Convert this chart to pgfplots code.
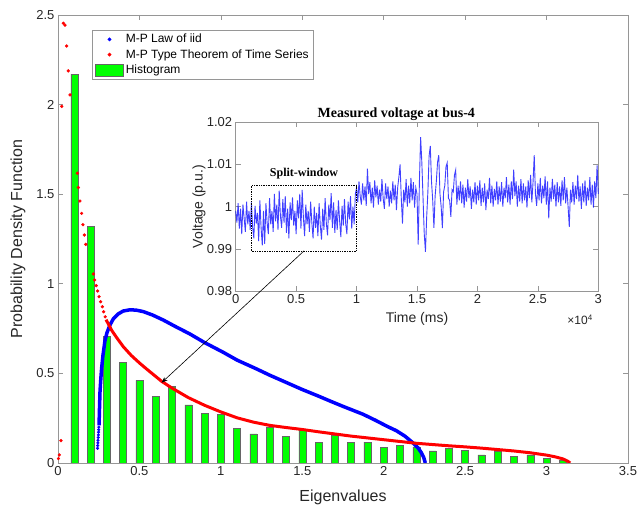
\documentclass[border=0pt]{standalone}
\usepackage{fontspec}
\setmainfont{Liberation Sans}
\newfontfamily\tnr{Liberation Serif}
\usepackage{pgfplots}
\pgfplotsset{compat=1.18}
\usepackage{pgfplotstable}
\usetikzlibrary{arrows.meta}
\definecolor{axgray}{RGB}{150,150,150}
\definecolor{txtgray}{RGB}{38,38,38}
\definecolor{histgreen}{RGB}{0,255,0}

% histogram of eigenvalues
\pgfplotstableread{
x h
0.1 2.17
0.2 1.32
0.3 0.705
0.4 0.562
0.5 0.461
0.6 0.372
0.7 0.426
0.8 0.325
0.9 0.275
1.0 0.272
1.1 0.194
1.2 0.162
1.3 0.201
1.4 0.149
1.5 0.184
1.6 0.117
1.7 0.155
1.8 0.115
1.9 0.117
2.0 0.088
2.1 0.097
2.2 0.090
2.3 0.067
2.4 0.080
2.5 0.070
2.6 0.046
2.7 0.064
2.8 0.035
2.9 0.046
3.0 0.027
3.1 0.015
}\hist

% measured voltage at bus-4
\pgfplotstableread[row sep=\\]{
t v\\
0 0.9990\\ 100 0.9962\\ 200 1.0008\\ 300 0.9948\\ 400 0.9995\\ 500 0.9935\\ 600 1.0005\\ 700 0.9972\\ 800 0.9940\\ 900 1.0012\\
1000 0.9958\\ 1100 0.9990\\ 1200 0.9945\\ 1300 1.0010\\ 1400 0.9952\\ 1500 0.9925\\ 1600 1.0002\\ 1700 0.9960\\ 1800 0.9985\\ 1900 0.9918\\
2000 1.0015\\ 2100 0.9950\\ 2200 0.9908\\ 2300 0.9990\\ 2400 0.9912\\ 2500 1.0008\\ 2600 0.9962\\ 2700 0.9935\\ 2800 1.0020\\ 2900 0.9958\\
3000 0.9990\\ 3100 0.9940\\ 3200 1.0030\\ 3300 0.9965\\ 3400 1.0005\\ 3500 0.9945\\ 3600 1.0038\\ 3700 0.9978\\ 3800 0.9950\\ 3900 1.0018\\
4000 0.9962\\ 4100 1.0025\\ 4200 0.9938\\ 4300 0.9995\\ 4400 0.9925\\ 4500 1.0010\\ 4600 0.9968\\ 4700 1.0022\\ 4800 0.9955\\ 4900 0.9990\\
5000 0.9935\\ 5100 1.0015\\ 5200 0.9972\\ 5300 1.0030\\ 5400 0.9948\\ 5500 1.0040\\ 5600 0.9975\\ 5700 0.9930\\ 5800 1.0005\\ 5900 0.9958\\
6000 0.9990\\ 6100 0.9940\\ 6200 1.0012\\ 6300 0.9962\\ 6400 0.9925\\ 6500 1.0000\\ 6600 0.9950\\ 6700 0.9985\\ 6800 0.9930\\ 6900 1.0008\\
7000 0.9955\\ 7100 0.9922\\ 7200 0.9995\\ 7300 0.9945\\ 7400 1.0020\\ 7500 0.9960\\ 7600 0.9932\\ 7700 1.0005\\ 7800 0.9968\\ 7900 1.0032\\
8000 0.9950\\ 8100 1.0010\\ 8200 0.9938\\ 8300 0.9992\\ 8400 0.9945\\ 8500 1.0015\\ 8600 0.9965\\ 8700 0.9928\\ 8800 1.0002\\ 8900 0.9955\\
9000 1.0018\\ 9100 0.9960\\ 9200 0.9935\\ 9300 1.0012\\ 9400 0.9970\\ 9500 1.0025\\ 9600 0.9948\\ 9700 1.0000\\ 9800 0.9958\\ 9900 1.0030\\
10000 1.0045\\ 10100 1.0010\\ 10200 1.0060\\ 10300 1.0025\\ 10400 1.0005\\ 10500 1.0055\\ 10600 1.0015\\ 10700 1.0048\\ 10800 1.0002\\ 10900 1.0090\\
11000 1.0030\\ 11100 1.0058\\ 11200 1.0008\\ 11300 1.0045\\ 11400 0.9998\\ 11500 1.0062\\ 11600 1.0022\\ 11700 1.0050\\ 11800 1.0005\\ 11900 1.0040\\
12000 1.0012\\ 12100 1.0065\\ 12200 1.0020\\ 12300 0.9995\\ 12400 1.0055\\ 12500 1.0018\\ 12600 1.0048\\ 12700 1.0000\\ 12800 1.0038\\ 12900 1.0008\\
13000 1.0060\\ 13100 1.0015\\ 13200 1.0052\\ 13300 0.9992\\ 13400 1.0045\\ 13500 1.0070\\ 13600 1.0100\\ 13700 1.0020\\ 13800 0.9960\\ 13900 1.0040\\
14000 1.0010\\ 14100 1.0065\\ 14200 1.0000\\ 14300 1.0050\\ 14400 1.0008\\ 14500 1.0068\\ 14600 1.0015\\ 14700 1.0058\\ 14800 0.9998\\ 14900 1.0045\\
15000 1.0030\\ 15100 0.9910\\ 15200 1.0060\\ 15300 1.0165\\ 15400 1.0105\\ 15500 1.0020\\ 15600 0.9935\\ 15700 0.9893\\ 15800 0.9975\\ 15900 1.0035\\
16000 1.0120\\ 16100 1.0144\\ 16200 1.0060\\ 16300 1.0015\\ 16400 0.9950\\ 16500 1.0025\\ 16600 1.0060\\ 16700 1.0105\\ 16800 1.0122\\ 16900 1.0030\\
17000 1.0000\\ 17100 0.9949\\ 17200 1.0035\\ 17300 1.0050\\ 17400 1.0095\\ 17500 1.0104\\ 17600 1.0020\\ 17700 1.0015\\ 17800 0.9976\\ 17900 1.0040\\
18000 1.0035\\ 18100 1.0075\\ 18200 1.0087\\ 18300 1.0005\\ 18400 1.0050\\ 18500 1.0015\\ 18600 1.0060\\ 18700 1.0008\\ 18800 1.0052\\ 18900 0.9998\\
19000 1.0045\\ 19100 1.0012\\ 19200 1.0065\\ 19300 1.0020\\ 19400 1.0048\\ 19500 0.9995\\ 19600 1.0040\\ 19700 1.0010\\ 19800 1.0058\\ 19900 1.0005\\
20000 1.0050\\ 20100 1.0015\\ 20200 1.0062\\ 20300 1.0002\\ 20400 1.0045\\ 20500 1.0010\\ 20600 1.0055\\ 20700 0.9992\\ 20800 1.0040\\ 20900 1.0018\\
21000 1.0068\\ 21100 1.0008\\ 21200 1.0050\\ 21300 1.0000\\ 21400 1.0042\\ 21500 1.0015\\ 21600 1.0060\\ 21700 1.0005\\ 21800 1.0048\\ 21900 1.0012\\
22000 1.0058\\ 22100 1.0000\\ 22200 1.0045\\ 22300 1.0020\\ 22400 1.0070\\ 22500 1.0010\\ 22600 1.0052\\ 22700 1.0005\\ 22800 1.0060\\ 22900 1.0018\\
23000 1.0088\\ 23100 1.0025\\ 23200 1.0060\\ 23300 1.0000\\ 23400 1.0050\\ 23500 1.0012\\ 23600 1.0065\\ 23700 1.0008\\ 23800 1.0055\\ 23900 1.0015\\
24000 1.0048\\ 24100 0.9998\\ 24200 1.0062\\ 24300 1.0020\\ 24400 1.0075\\ 24500 1.0010\\ 24600 1.0058\\ 24700 1.0122\\ 24800 1.0030\\ 24900 1.0002\\
25000 1.0055\\ 25100 1.0015\\ 25200 1.0068\\ 25300 1.0008\\ 25400 1.0050\\ 25500 1.0020\\ 25600 1.0072\\ 25700 1.0005\\ 25800 1.0060\\ 25900 0.9972\\
26000 1.0045\\ 26100 1.0012\\ 26200 1.0066\\ 26300 1.0018\\ 26400 1.0052\\ 26500 1.0000\\ 26600 1.0058\\ 26700 1.0010\\ 26800 1.0048\\ 26900 1.0002\\
27000 1.0062\\ 27100 1.0015\\ 27200 1.0070\\ 27300 1.0008\\ 27400 1.0045\\ 27500 1.0000\\ 27600 0.9952\\ 27700 1.0040\\ 27800 1.0010\\ 27900 1.0058\\
28000 1.0005\\ 28100 1.0050\\ 28200 1.0018\\ 28300 1.0075\\ 28400 1.0012\\ 28500 1.0048\\ 28600 0.9995\\ 28700 1.0055\\ 28800 1.0010\\ 28900 1.0062\\
29000 1.0002\\ 29100 1.0045\\ 29200 1.0015\\ 29300 1.0070\\ 29400 1.0005\\ 29500 1.0052\\ 29600 0.9998\\ 29700 1.0060\\ 29800 1.0020\\ 29900 1.0098\\
30000 1.0030\\
}\volt

\pgfplotsset{mlab/.style={
  scale only axis,
  axis line style={axgray, line width=0.6pt},
  tick style={axgray, line width=0.6pt},
  tick align=inside,
  major tick length=5pt,
  ticklabel style={text=txtgray},
  label style={text=txtgray},
  /pgf/number format/assume math mode=true,
}}

\begin{document}
\begin{tikzpicture}
\useasboundingbox (-58pt,-48pt) rectangle (580pt,463pt);

\begin{axis}[mlab,
  at={(0pt,0pt)}, anchor=south west,
  width=570pt, height=448pt,
  xmin=0, xmax=3.5, ymin=0, ymax=2.5,
  xtick={0,0.5,1,1.5,2,2.5,3,3.5},
  ytick={0,0.5,1,1.5,2,2.5},
  tick label style={font=\fontsize{13}{15}\selectfont},
  xlabel={Eigenvalues}, ylabel={Probability Density Function},
  label style={font=\fontsize{16}{18}\selectfont},
  xlabel style={at={(axis description cs:0.5,-0.076)}, anchor=center},
  ylabel style={at={(axis description cs:-0.0702,0.5)}, anchor=center},
  legend cell align=left,
  legend style={at={(axis description cs:0.0596,0.9665)}, anchor=north west,
    draw=axgray, line width=0.6pt, fill=white,
    font=\fontsize{12}{14}\selectfont, inner xsep=3pt, inner ysep=2pt,
    row sep=1pt},
]
\addplot[ybar, bar width=0.043, bar shift=0pt, fill=histgreen, draw=black!60,
  line width=0.5pt, forget plot] table[x=x, y=h] {\hist};

% M-P law of iid
\addplot[only marks, mark=*, mark size=1.35pt, blue, forget plot] coordinates {
  (0.243,0.082) (0.244,0.097) (0.245,0.112) (0.246,0.127) (0.247,0.142)
  (0.248,0.157) (0.249,0.172) (0.250,0.186) (0.251,0.200)
};
\addplot[blue, line width=3.5pt, forget plot] coordinates {
  (0.252,0.21) (0.255,0.31) (0.258,0.40) (0.263,0.47) (0.268,0.53)
  (0.276,0.60) (0.288,0.68) (0.30,0.725) (0.319,0.77) (0.34,0.805)
  (0.37,0.832) (0.40,0.848) (0.442,0.855) (0.48,0.853) (0.523,0.845)
  (0.58,0.826) (0.646,0.798) (0.72,0.762) (0.81,0.72) (0.90,0.672)
  (1.014,0.618) (1.10,0.574) (1.219,0.525) (1.30,0.49) (1.40,0.45)
  (1.50,0.41) (1.60,0.373) (1.67,0.346) (1.75,0.316) (1.873,0.272)
  (1.95,0.238) (2.02,0.205) (2.078,0.18) (2.13,0.15) (2.18,0.112)
  (2.21,0.085) (2.231,0.058) (2.245,0.032) (2.252,0.012) (2.255,0.0)
};

% M-P type theorem of time series
\addplot[only marks, mark=*, mark size=1.45pt, red, forget plot] coordinates {
  (0.003,0.025) (0.008,0.045) (0.018,0.125) (0.023,1.99)
  (0.033,2.454) (0.043,2.443) (0.053,2.327) (0.063,2.188) (0.074,2.054)
  (0.119,1.617) (0.125,1.537) (0.135,1.462) (0.145,1.393) (0.153,1.33)
  (0.162,1.272) (0.17,1.22)
  (0.217,1.055) (0.225,1.021) (0.235,0.99) (0.243,0.96) (0.252,0.928)
  (0.262,0.9) (0.272,0.872) (0.28,0.844) (0.29,0.816)
};
\addplot[red, line width=3pt, forget plot] coordinates {
  (0.295,0.80) (0.33,0.74) (0.36,0.70) (0.401,0.649) (0.45,0.60)
  (0.503,0.556) (0.55,0.52) (0.60,0.483) (0.636,0.456) (0.70,0.418)
  (0.80,0.365) (0.90,0.322) (1.00,0.285) (1.10,0.252) (1.20,0.228)
  (1.30,0.21) (1.40,0.198) (1.50,0.187) (1.60,0.174) (1.70,0.162)
  (1.80,0.15) (1.90,0.14) (2.00,0.13) (2.10,0.12) (2.20,0.11)
  (2.30,0.103) (2.40,0.096) (2.50,0.09) (2.60,0.083) (2.70,0.075)
  (2.80,0.067) (2.90,0.057) (3.00,0.044) (3.05,0.035) (3.10,0.023)
  (3.13,0.01) (3.145,0.0)
};

\addlegendimage{legend image code/.code={\path[draw=none] (0pt,0pt) rectangle (28pt,0pt); \fill[blue] (14pt,0pt) circle (1.6pt);}}
\addlegendentry{M-P Law of iid}
\addlegendimage{legend image code/.code={\path[draw=none] (0pt,0pt) rectangle (28pt,0pt); \fill[red] (14pt,0pt) circle (1.6pt);}}
\addlegendentry{M-P Type Theorem of Time Series}
\addlegendimage{legend image code/.code={\draw[fill=histgreen, draw=black!60, line width=0.5pt] (0pt,-6pt) rectangle (28pt,6pt);}}
\addlegendentry{Histogram}

\coordinate (arrtip) at (axis cs:0.636,0.448);
\end{axis}

\begin{axis}[mlab,
  at={(177.7pt,172pt)}, anchor=south west,
  width=362.6pt, height=168.7pt,
  xmin=0, xmax=30000, ymin=0.98, ymax=1.02,
  axis background/.style={fill=white},
  xtick={0,5000,10000,15000,20000,25000,30000},
  xticklabels={0,0.5,1,1.5,2,2.5,3},
  scaled x ticks=false, scaled y ticks=false,
  ytick={0.98,0.99,1,1.01,1.02},
  yticklabels={0.98,0.99,1,1.01,1.02},
  tick label style={font=\fontsize{13}{15}\selectfont},
  xlabel={Time (ms)}, ylabel={Voltage (p.u.)},
  label style={font=\fontsize{14}{16}\selectfont},
  xlabel style={at={(axis description cs:0.5,-0.168)}, anchor=center},
  ylabel style={at={(axis description cs:-0.101,0.5)}, anchor=center},
  clip=false,
]
\addplot[blue, line width=0.9pt, opacity=0.75] table[x=t, y=v] {\volt};
\draw[densely dotted, line width=0.7pt] (axis cs:1300,0.9895) rectangle (axis cs:10000,1.005);
\node[font=\tnr\bfseries\fontsize{12}{14}\selectfont] at (axis cs:5650,1.0078) {Split-window};
\node[font=\tnr\bfseries\fontsize{14}{16}\selectfont, anchor=base] at ([yshift=5pt]axis description cs:0.443,1) {Measured voltage at bus-4};
\node[font=\fontsize{12}{14}\selectfont, text=txtgray, anchor=east] at ([xshift=-2pt,yshift=-29pt]axis description cs:1,0) {×10\textsuperscript{4}};
\coordinate (arrstart) at (axis cs:5650,0.9895);
\end{axis}

\draw[-{Stealth[length=6pt,width=4.5pt]}, line width=0.6pt] (arrstart) -- (arrtip);
\end{tikzpicture}
\end{document}
